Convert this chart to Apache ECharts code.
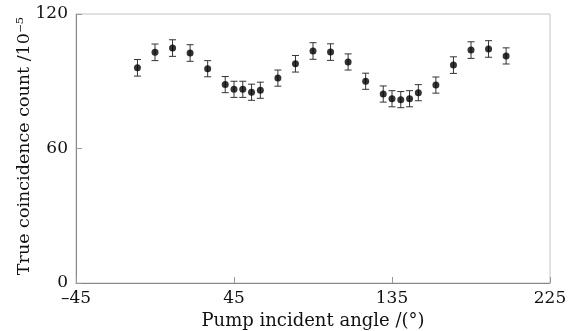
<!DOCTYPE html>
<html>
<head>
<meta charset="utf-8">
<script src="https://cdn.jsdelivr.net/npm/echarts@6/dist/echarts.min.js"></script>
<style>
  html, body { margin: 0; padding: 0; background: #fff; }
  #main { width: 581px; height: 331px; }
</style>
</head>
<body>
<div id="main"></div>
<script>
  // pump angle (deg)
  var angles = [-10, 0, 10, 20, 30, 40, 45, 50, 55, 60, 70, 80, 90, 100,
    110, 120, 130, 135, 140, 145, 150, 160, 170, 180, 190, 200];
  // true coincidence count /1e-5
  var counts = [96.0, 102.9, 104.8, 102.6, 95.6, 88.5, 86.4, 86.4, 85.1, 86.0, 91.4, 97.8, 103.5, 103.0,
    98.6, 90.0, 84.3, 82.2, 81.8, 82.2, 84.9, 88.3, 97.2, 103.9, 104.4, 101.3];
  var errors = [3.7, 3.7, 3.7, 3.7, 3.6, 3.6, 3.6, 3.6, 3.6, 3.6, 3.6, 3.7, 3.7, 3.7,
    3.6, 3.6, 3.6, 3.6, 3.6, 3.6, 3.6, 3.6, 3.7, 3.7, 3.7, 3.6];
  var xTicks = [-45, 45, 135, 225];
  var yTicks = [0, 60, 120];

  var chart = echarts.init(document.getElementById('main'));

  var pts = [], bars = [];
  for (var i = 0; i < angles.length; i++) {
    pts.push([angles[i], counts[i]]);
    bars.push([angles[i], counts[i] - errors[i], counts[i] + errors[i]]);
  }

  var serif = 'DejaVu Serif';

  chart.setOption({
    animation: false,
    grid: {
      left: 76, right: 31, top: 14, bottom: 48,
      outerBoundsMode: 'none',
      containLabel: false,
      show: true,
      borderColor: '#c4c4c4',
      borderWidth: 1
    },
    graphic: [{
      type: 'text',
      x: 24, y: 146,
      rotation: Math.PI / 2,
      style: {
        text: 'True coincidence count /10⁻⁵',
        font: '17.5px "DejaVu Serif"',
        fill: '#111',
        align: 'center',
        verticalAlign: 'middle'
      }
    }],
    xAxis: {
      type: 'value',
      min: xTicks[0],
      max: xTicks[xTicks.length - 1],
      interval: xTicks[1] - xTicks[0],
      name: 'Pump incident angle /(°)',
      nameLocation: 'middle',
      nameGap: 27,
      nameTextStyle: { fontFamily: serif, fontSize: 18, color: '#111' },
      axisLine: { onZero: false, lineStyle: { color: '#888', width: 1 } },
      axisTick: { inside: true, length: 6, lineStyle: { color: '#999' } },
      splitLine: { show: false },
      axisLabel: {
        fontFamily: serif, fontSize: 17, color: '#111', margin: 7,
        formatter: function (v) { return String(v).replace('-', '–'); }
      }
    },
    yAxis: {
      type: 'value',
      min: yTicks[0],
      max: yTicks[yTicks.length - 1],
      interval: yTicks[1] - yTicks[0],
      axisLine: { show: true, onZero: false, lineStyle: { color: '#888', width: 1 } },
      axisTick: { show: true, inside: true, length: 6, lineStyle: { color: '#999' } },
      splitLine: { show: false },
      axisLabel: { fontFamily: serif, fontSize: 17, color: '#111', margin: 8 }
    },
    series: [
      {
        type: 'custom',
        data: bars,
        renderItem: function (params, api) {
          var x = api.value(0);
          var lo = api.coord([x, api.value(1)]);
          var hi = api.coord([x, api.value(2)]);
          var cw = 3.5;
          var st = { stroke: '#333', lineWidth: 1 };
          return {
            type: 'group',
            children: [
              { type: 'line', shape: { x1: lo[0], y1: lo[1], x2: hi[0], y2: hi[1] }, style: st },
              { type: 'line', shape: { x1: lo[0] - cw, y1: lo[1], x2: lo[0] + cw, y2: lo[1] }, style: st },
              { type: 'line', shape: { x1: hi[0] - cw, y1: hi[1], x2: hi[0] + cw, y2: hi[1] }, style: st }
            ]
          };
        },
        z: 2
      },
      {
        type: 'scatter',
        data: pts,
        symbol: 'circle',
        symbolSize: 7,
        itemStyle: { color: '#000' },
        z: 3
      }
    ]
  });
</script>
</body>
</html>
